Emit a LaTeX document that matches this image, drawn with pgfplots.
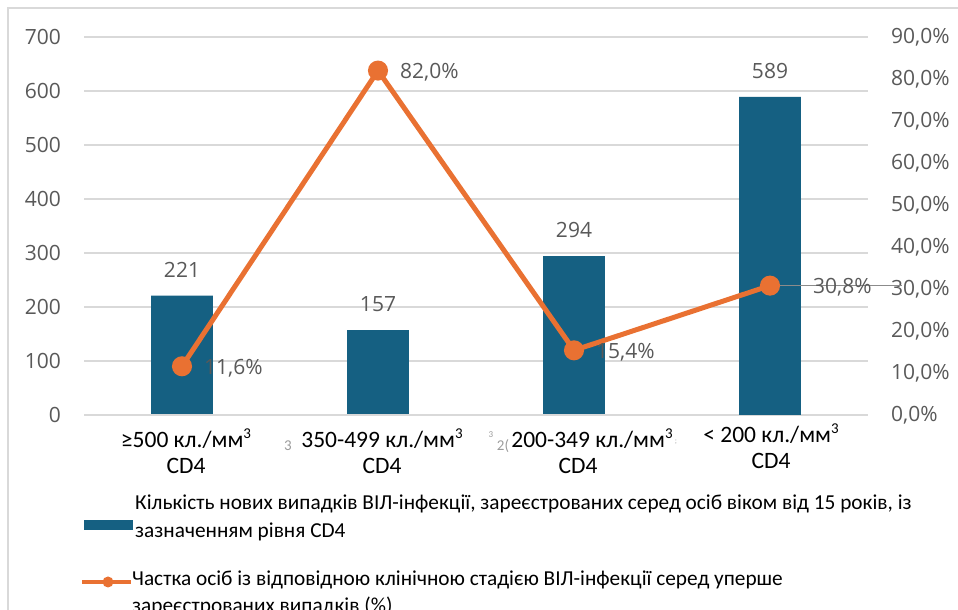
\documentclass[border=0pt]{standalone}
\usepackage{fontspec}
\setmainfont{Carlito}
\newfontfamily\numfont{Open Sans}
\usepackage{pgfplots}
\pgfplotsset{compat=1.18}
\pgfplotsset{/pgf/number format/assume math mode=true}
\definecolor{barblue}{HTML}{156082}
\definecolor{lineorange}{HTML}{E97132}
\definecolor{txtgray}{HTML}{595959}
\definecolor{gridgray}{HTML}{D9D9D9}
\newcommand{\cub}{\raisebox{0.38em}{\fontsize{15}{15}\selectfont 3}}

\begin{document}
\begin{tikzpicture}[x=1pt,y=1pt]
\path[use as bounding box] (0,0) rectangle (958,610);
\begin{scope}
\clip (0,0) rectangle (958,610);
\draw[gridgray, line width=1.5pt] (8,-5) -- (8,602) -- (970,602);
\end{scope}

% bars, left axis
\begin{axis}[
  at={(84pt,195pt)}, anchor=south west, scale only axis,
  width=784pt, height=378pt,
  xmin=-0.5, xmax=3.5, ymin=0, ymax=700,
  ytick={0,100,...,700},
  xtick={0,1,2},
  xticklabels={{≥500 кл./мм\cub\\CD4},{350-499 кл./мм\cub\\CD4},{\hspace*{28pt}200-349 кл./мм\cub\\CD4}},
  extra x ticks={3},
  extra x tick labels={{< 200 кл./мм\cub\\CD4}},
  extra x tick style={xticklabel style={yshift=5pt, xshift=-3pt}},
  xticklabel style={font=\fontsize{23.5}{26}\selectfont, align=center, anchor=north, inner sep=0pt, yshift=-14pt, xshift=4pt},
  yticklabel style={font=\numfont\fontsize{21}{21}\selectfont, text=txtgray, anchor=east, inner sep=0pt, xshift=-23pt},
  axis line style={draw=none},
  major tick length=0pt,
  ymajorgrids, grid style={gridgray, line width=1.5pt},
  clip=false,
]
\addplot[ybar, bar width=0.316, fill=barblue, draw=none,
  nodes near coords,
  nodes near coords style={font=\numfont\fontsize{21}{21}\selectfont, text=txtgray, anchor=south, inner sep=0pt, yshift=18pt}]
  coordinates {(0,221) (1,157) (2,294) (3,589)};
\draw[gridgray, line width=1.5pt] (axis cs:-0.5,0) -- (axis cs:2.5102,0);
\draw[gridgray, line width=1.5pt] (axis cs:3.4591,0) -- (axis cs:3.5,0);
\end{axis}

% line, right axis
\begin{axis}[
  at={(84pt,195pt)}, anchor=south west, scale only axis,
  width=784pt, height=378pt,
  xmin=-0.5, xmax=3.5, ymin=0, ymax=90,
  xtick=\empty,
  ytick={0,10,...,90},
  yticklabels={{0,0\%},{10,0\%},{20,0\%},{30,0\%},{40,0\%},{50,0\%},{60,0\%},{70,0\%},{80,0\%},{90,0\%}},
  yticklabel pos=right,
  yticklabel style={font=\numfont\fontsize{21}{21}\selectfont, text=txtgray, anchor=west, inner sep=0pt, xshift=23pt},
  axis line style={draw=none},
  major tick length=0pt,
  clip=false,
  pctlabel/.style={draw=none, mark=none, point meta=y,
    nodes near coords={\pgfmathprintnumber[fixed, fixed zerofill, precision=1, use comma]{\pgfplotspointmeta}\%},
    nodes near coords style={font=\numfont\fontsize{21}{21}\selectfont, text=txtgray, anchor=base west, inner sep=0pt, xshift=#1, yshift=-7.8pt}},
]
\draw[txtgray!70, line width=1pt] (axis cs:3,30.8) -- ++(34pt,0);
\addplot[lineorange, line width=5pt, mark=*, mark size=7.5pt, mark options={fill=lineorange, draw=none}]
  coordinates {(0,11.6) (1,82.0) (2,15.4) (3,30.8)};
\addplot[pctlabel=22pt] coordinates {(0,11.6) (1,82.0) (2,15.4)};
\addplot[pctlabel=43pt] coordinates {(3,30.8)};
\end{axis}

% clipped label fragments
\node[text=txtgray!60, font=\fontsize{15}{15}\selectfont, inner sep=0pt] at (288,164) {3};
\node[text=txtgray!60, font=\fontsize{9}{9}\selectfont, inner sep=0pt] at (491,175) {3};
\node[text=txtgray!60, font=\fontsize{15}{15}\selectfont, inner sep=0pt] at (503,164) {2(};
\node[text=txtgray!50, font=\fontsize{8}{8}\selectfont, inner sep=0pt] at (676,168) {;};

% legend
\fill[barblue] (84,80) rectangle (133,90);
\node[anchor=base west, inner sep=0pt, font=\fontsize{21.3}{21.3}\selectfont] at (135,100) {Кількість нових випадків ВІЛ-інфекції, зареєстрованих серед осіб віком від 15 років, із};
\node[anchor=base west, inner sep=0pt, font=\fontsize{21.3}{21.3}\selectfont] at (135,72) {зазначенням рівня CD4};
\draw[lineorange, line width=4pt] (82,28) -- (131,28);
\fill[lineorange] (108,28) circle (5.5);
\node[anchor=base west, inner sep=0pt, font=\fontsize{21.3}{21.3}\selectfont] at (132,24) {Частка осіб із відповідною клінічною стадією ВІЛ-інфекції серед уперше};
\node[anchor=base west, inner sep=0pt, font=\fontsize{21.3}{21.3}\selectfont] at (132,-3) {зареєстрованих випадків (\%)};
\end{tikzpicture}
\end{document}
